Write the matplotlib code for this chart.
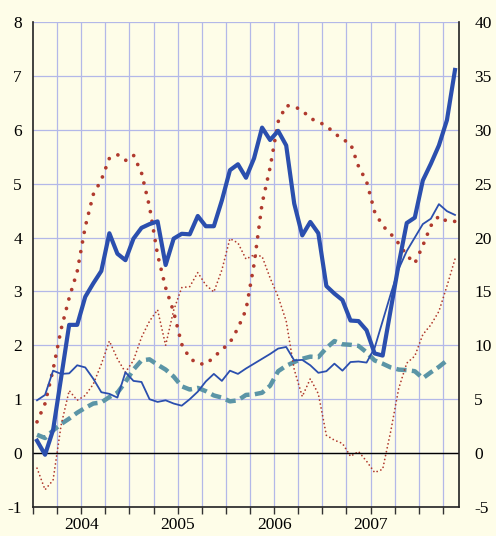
import numpy as np
import pandas as pd
import matplotlib
matplotlib.use('Agg')
import matplotlib.pyplot as plt

plt.rcParams['font.family'] = ['Liberation Serif', 'DejaVu Serif']

# monthly, Jan 2004 - May 2008
months = pd.period_range('2004-01', '2008-05', freq='M')

# left axis series
thick_blue = [0.23, -0.03, 0.43, 1.40, 2.38, 2.38, 2.90, 3.15, 3.38, 4.08,
              3.70, 3.58, 3.98, 4.18, 4.25, 4.30, 3.49, 3.98, 4.07, 4.06,
              4.40, 4.21, 4.21, 4.69, 5.25, 5.36, 5.11, 5.47, 6.04, 5.81,
              5.98, 5.71, 4.63, 4.04, 4.29, 4.08, 3.10, 2.96, 2.84, 2.46,
              2.45, 2.28, 1.85, 1.81, 2.66, 3.51, 4.27, 4.37, 5.06, 5.37,
              5.71, 6.18, 7.11]
thin_blue = [0.98, 1.08, 1.53, 1.47, 1.48, 1.63, 1.59, 1.38, 1.13, 1.10,
             1.03, 1.50, 1.34, 1.32, 1.00, 0.95, 0.98, 0.92, 0.88, 1.00,
             1.14, 1.33, 1.47, 1.34, 1.53, 1.47, 1.57, 1.66, 1.75, 1.84,
             1.94, 1.97, 1.72, 1.73, 1.63, 1.49, 1.52, 1.66, 1.53, 1.69,
             1.70, 1.68, 1.95, 2.45, 2.95, 3.42, 3.75, 4.00, 4.25, 4.35,
             4.62, 4.49, 4.42]
red_dots = [0.58, 0.92, 1.55, 2.30, 2.88, 3.37, 4.20, 4.80, 5.07, 5.47,
            5.54, 5.43, 5.53, 5.20, 4.57, 3.68, 3.07, 2.62, 2.02, 1.76,
            1.66, 1.65, 1.78, 1.92, 2.05, 2.32, 2.66, 3.50, 4.63, 5.30,
            6.15, 6.45, 6.43, 6.36, 6.21, 6.15, 6.07, 5.94, 5.82, 5.75,
            5.32, 5.04, 4.48, 4.22, 4.07, 3.89, 3.67, 3.52, 3.85, 4.22,
            4.40, 4.30, 4.30]

# right axis series
red_thin = [-1.4, -3.4, -2.5, 2.6, 5.8, 4.9, 5.35, 6.4, 8.25, 10.4,
            8.75, 7.5, 8.6, 10.75, 12.25, 13.3, 10.0, 13.25, 15.35, 15.45,
            16.75, 15.6, 14.95, 17.0, 19.9, 19.5, 18.0, 18.4, 18.25, 16.25,
            14.5, 12.25, 7.75, 5.25, 6.9, 5.5, 1.65, 1.2, 0.9, -0.3,
            0.15, -0.75, -1.8, -1.5, 2.0, 6.0, 8.35, 9.0, 11.0, 11.9,
            13.15, 15.5, 18.0]
teal_dash = [1.7, 1.4, 2.1, 2.7, 3.2, 3.75, 4.2, 4.6, 4.7, 5.2,
             5.6, 6.6, 7.75, 8.6, 8.7, 8.2, 7.75, 7.1, 6.2, 5.9,
             6.05, 5.75, 5.35, 5.15, 4.8, 4.9, 5.4, 5.45, 5.6, 6.25,
             7.6, 8.1, 8.45, 8.75, 8.95, 8.9, 9.75, 10.4, 10.1, 10.05,
             9.95, 9.35, 8.6, 8.3, 7.95, 7.75, 7.7, 7.6, 6.95, 7.5,
             8.0, 8.6]

left_ticks = [-1, 0, 1, 2, 3, 4, 5, 6, 7, 8]
left_labels = ['-1', '0', '1', '2', '3', '4', '5', '6', '7', '8']
right_ticks = [-5, 0, 5, 10, 15, 20, 25, 30, 35, 40]
right_labels = ['-5', '0', '5', '10', '15', '20', '25', '30', '35', '40']
year_labels = ['2004', '2005', '2006', '2007']

bg = '#fefde8'
grid_c = '#b3b8e8'
blue = '#2b4fae'
red = '#b03a2e'
teal = '#5b95a6'

x = np.arange(len(months))
quarter_edges = [i - 0.5 for i, m in enumerate(months) if m.month in (1, 4, 7, 10)]
year_centers = [np.mean([i for i, m in enumerate(months) if m.year == int(y)]) for y in year_labels]

fig = plt.figure(figsize=(4.96, 5.36), dpi=100, facecolor=bg)
ax = fig.add_axes([33 / 496, 1 - 507 / 536, 426 / 496, 485 / 536])
ax2 = ax.twinx()
ax.set_zorder(ax2.get_zorder() + 1)
ax.patch.set_visible(False)
ax2.patch.set_visible(True)
ax2.patch.set_facecolor(bg)

# grid on the back axes
for q in quarter_edges[1:]:
    ax2.axvline(q, color=grid_c, lw=0.9, zorder=0)
ax2.set_yticks(right_ticks)
ax2.set_yticklabels(right_labels)
ax2.grid(axis='y', color=grid_c, lw=0.9, zorder=0)
ax2.set_axisbelow(True)

ax2.plot(x[:len(teal_dash)], teal_dash, color=teal, lw=3.2,
         linestyle=(0, (2.3, 1.2)), dash_capstyle='butt', zorder=2)
ax2.plot(x, red_thin, color=red, lw=1.3, linestyle=(0, (0.01, 2.2)),
         dash_capstyle='round', zorder=3)

ax.axhline(0, color='black', lw=1.0, zorder=1)
ax.plot(x, red_dots, color=red, lw=2.7, linestyle=(0, (0.01, 2.6)),
        dash_capstyle='round', zorder=3)
ax.plot(x, thin_blue, color=blue, lw=1.3, zorder=4)
ax.plot(x, thick_blue, color=blue, lw=3.0, zorder=5)

ax.set_xlim(-0.5, 52.5)
ax.set_ylim(-1, 8)
ax2.set_ylim(-5, 40)

ax.set_yticks(left_ticks)
ax.set_yticklabels(left_labels)
ax.tick_params(axis='y', length=0, pad=8, labelsize=12.5)
ax2.tick_params(axis='y', length=0, pad=11, labelsize=12.5)

# year labels sit on quarter gridlines, so keep overlapping minor ticks
ax.xaxis.remove_overlapping_locs = False
ax.set_xticks(quarter_edges)
ax.set_xticklabels([])
ax.set_xticks(year_centers, minor=True)
ax.set_xticklabels(year_labels, minor=True)
ax.tick_params(axis='x', which='major', direction='out', length=5, width=1, color='#333333')
ax.tick_params(axis='x', which='minor', length=0, pad=7, labelsize=12.5)

for s in ax2.spines.values():
    s.set_visible(False)
ax.spines['top'].set_visible(False)
for k in ('left', 'right', 'bottom'):
    ax.spines[k].set_color('#222222')
    ax.spines[k].set_linewidth(1.2)

fig.savefig('out.png', dpi=100, facecolor=bg)
